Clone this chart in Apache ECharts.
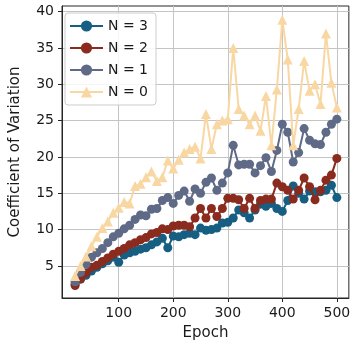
<!DOCTYPE html>
<html><head><meta charset="utf-8">
<script src="https://cdn.jsdelivr.net/npm/echarts@6/dist/echarts.min.js"></script>
<style>html,body{margin:0;padding:0;background:#fff}#c{width:353px;height:346px}</style>
</head><body><div id="c"></div>
<script>
const epochs = [20,30,40,50,60,70,80,90,100,110,120,130,140,150,160,170,180,190,200,210,220,230,240,250,260,270,280,290,300,310,320,330,340,350,360,370,380,390,400,410,420,430,440,450,460,470,480,490,500];
const n3 = [2.5,3.2,3.7,4.3,4.8,5.3,5.7,6.2,5.5,6.5,6.8,7.0,7.3,7.5,7.9,8.3,8.8,7.5,9.1,9.0,9.3,9.5,9.3,10.2,9.9,10.0,10.2,10.9,11.0,11.6,12.7,12.3,11.6,12.7,13.5,13.2,13.6,12.9,12.5,14.0,16.0,15.0,14.2,15.3,15.2,15.2,15.4,16.1,14.4];
const n2 = [2.3,3.2,4.0,4.8,5.1,5.6,6.1,6.6,7.0,7.4,7.9,8.2,8.6,8.9,9.4,9.6,10.1,10.0,10.5,10.6,10.6,10.4,11.6,12.9,11.6,12.9,11.8,12.9,14.3,14.3,14.1,12.9,14.3,12.9,14.0,14.2,14.2,16.4,15.9,15.4,14.2,15.4,17.1,15.9,14.1,15.4,16.8,17.5,19.8];
const n1 = [2.8,4.1,5.2,6.2,6.8,7.4,8.2,9.0,9.5,10.1,10.6,11.4,12.0,11.9,12.8,12.9,14.0,14.4,13.6,14.7,15.3,13.9,15.6,15.0,16.5,17.1,15.4,16.4,17.8,21.6,18.9,19.0,19.0,17.8,18.8,19.9,18.0,20.9,24.5,23.4,19.3,20.6,23.9,22.3,21.8,21.7,23.4,24.5,25.2];
const n0 = [3.6,5.0,6.3,7.7,9.0,10.2,11.1,12.3,13.0,13.8,13.6,16.0,16.3,17.2,18.0,16.7,17.2,19.5,18.4,19.6,20.6,21.1,21.4,19.8,25.9,21.1,24.5,25.0,25.2,35.0,26.6,25.7,24.5,25.7,23.6,28.4,21.6,29.3,38.9,33.4,21.6,26.6,33.2,29.1,30.0,27.3,37.0,30.2,26.8];
const names = ['N = 3','N = 2','N = 1','N = 0'];
const xTicks = [100,200,300,400,500];
const yTicks = [5,10,15,20,25,30,35,40];

const colors = ['#165f83','#8a2b1e','#5f6a87','#f9d7a2'];
const allVals = [n3,n2,n1,n0];
const series = allVals.map((vals,k)=>({
  name: names[k], type:'line',
  data: epochs.map((e,i)=>[e, vals[i]]),
  symbol: k===3 ? 'triangle' : 'circle',
  symbolSize: k===3 ? 10 : 9,
  showSymbol: true,
  lineStyle:{color:colors[k], width:2},
  itemStyle:{color:colors[k], borderWidth:0},
  emphasis:{disabled:true},
  animation:false,
  z: 2+k
}));
const font = 'DejaVu Sans';
const chart = echarts.init(document.getElementById('c'), null, {renderer:'canvas'});
chart.setOption({
  animation:false,
  grid:{left:57, top:6, right:1, bottom:45, show:true, borderColor:'#262626', borderWidth:1, backgroundColor:'#fff'},
  legend:{
    orient:'vertical', left:65, top:13,
    padding:[6,8,6,4], itemGap:8, itemWidth:33, itemHeight:14, itemTextGap:11,
    backgroundColor:'rgba(255,255,255,0.85)', borderColor:'#cccccc', borderWidth:1, borderRadius:3,
    textStyle:{fontFamily:font, fontSize:14, color:'#1a1a1a', lineHeight:14},
    data: names
  },
  xAxis:{
    type:'value', min:-4, max:522,
    name:'Epoch', nameLocation:'middle', nameGap:28,
    nameTextStyle:{fontFamily:font, fontSize:15, color:'#1a1a1a'},
    axisLine:{show:true, onZero:false, lineStyle:{color:'#262626', width:1}},
    axisTick:{show:true, inside:false, length:4, customValues:xTicks, lineStyle:{color:'#262626'}},
    axisLabel:{customValues:xTicks, margin:8, fontFamily:font, fontSize:14, color:'#1a1a1a'},
    splitLine:{show:true, lineStyle:{color:'#c4c4c4', width:1}}
  },
  yAxis:{
    type:'value', min:0.58, max:40.78,
    name:'Coefficient of Variation', nameLocation:'middle', nameGap:39,
    nameTextStyle:{fontFamily:font, fontSize:15, color:'#1a1a1a'},
    axisLine:{show:true, onZero:false, lineStyle:{color:'#262626', width:1}},
    axisTick:{show:true, inside:false, length:4, customValues:yTicks, lineStyle:{color:'#262626'}},
    axisLabel:{customValues:yTicks, margin:8, fontFamily:font, fontSize:14, color:'#1a1a1a'},
    splitLine:{show:true, lineStyle:{color:'#c4c4c4', width:1}}
  },
  series: series
});
</script></body></html>
